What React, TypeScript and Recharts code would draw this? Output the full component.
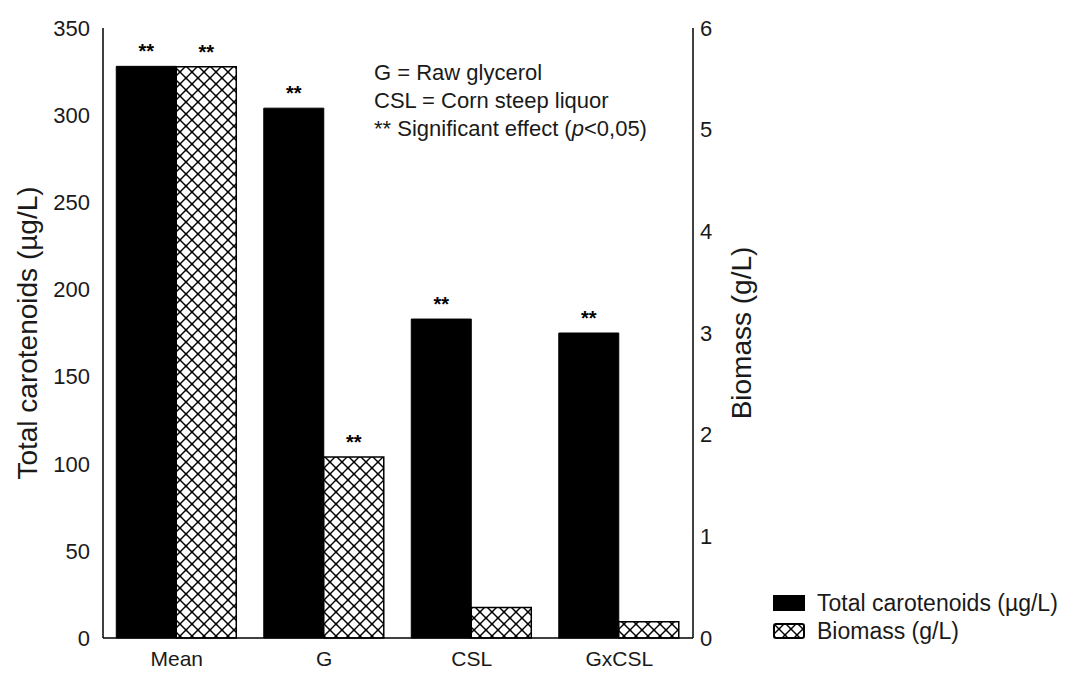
import React from 'react';
import { BarChart, Bar, XAxis, YAxis, Legend, LabelList } from 'recharts';

// values
const categories = ['Mean', 'G', 'CSL', 'GxCSL'];
const carotenoids = [328, 304, 183, 175];
const biomass = [5.62, 1.78, 0.3, 0.16];
const carotenoidTicks = [0, 50, 100, 150, 200, 250, 300, 350];
const biomassTicks = [0, 1, 2, 3, 4, 5, 6];
const notes = ['G = Raw glycerol', 'CSL = Corn steep liquor'];
const seriesNames = ['Total carotenoids (µg/L)', 'Biomass (g/L)'];

const data = categories.map((name, i) => ({
  name,
  carotenoids: carotenoids[i],
  biomass: biomass[i],
}));

const FONT = '"Liberation Sans", Arial, sans-serif';
const INK = '#1a1a1a';

const Stars = (props: any) => {
  const { x, y, width } = props;
  return (
    <text x={x + width / 2} y={y - 8} textAnchor="middle" fontSize={20} fontWeight="bold" fill="#000" fontFamily={FONT}>
      **
    </text>
  );
};

const AxisTitle = ({ viewBox, value, dx }: any) => {
  const cx = viewBox.x + dx;
  const cy = viewBox.y + viewBox.height / 2;
  return (
    <text x={cx} y={cy} transform={`rotate(-90, ${cx}, ${cy})`} textAnchor="middle" dominantBaseline="central" fontSize={28} fill={INK} fontFamily={FONT}>
      {value}
    </text>
  );
};

const LegendBox = () => (
  <div style={{ fontFamily: FONT, fontSize: 23, color: INK, lineHeight: '28px' }}>
    <div style={{ display: 'flex', alignItems: 'center' }}>
      <svg width={32} height={16} style={{ marginRight: 12 }}>
        <rect x={0} y={0} width={32} height={16} fill="#000" />
      </svg>
      {seriesNames[0]}
    </div>
    <div style={{ display: 'flex', alignItems: 'center' }}>
      <svg width={32} height={16} style={{ marginRight: 12 }}>
        <rect x={1} y={1} width={30} height={14} rx={2} fill="url(#crosshatch)" stroke="#000" strokeWidth={2} />
      </svg>
      {seriesNames[1]}
    </div>
  </div>
);

export default function App() {
  return (
    <div style={{ width: 1078, height: 674, background: '#fff' }}>
      <style>{'body{margin:0}'}</style>
      <BarChart
        width={1078}
        height={674}
        data={data}
        margin={{ top: 28, right: 285, bottom: 0, left: 0 }}
        barCategoryGap="9%"
        barGap={0}
      >
        <defs>
          <pattern id="crosshatch" patternUnits="userSpaceOnUse" width={12} height={12}>
            <rect width={12} height={12} fill="#fff" />
            <path d="M0,0 L12,12 M12,0 L0,12" stroke="#000" strokeWidth={1.4} />
            <circle cx={6} cy={6} r={1.3} fill="#000" />
            <circle cx={0} cy={0} r={1.3} fill="#000" />
            <circle cx={12} cy={0} r={1.3} fill="#000" />
            <circle cx={0} cy={12} r={1.3} fill="#000" />
            <circle cx={12} cy={12} r={1.3} fill="#000" />
          </pattern>
        </defs>
        <XAxis
          dataKey="name"
          height={36}
          axisLine={{ stroke: '#000', strokeWidth: 1.5 }}
          tickLine={false}
          tickSize={6}
          tickMargin={7}
          tick={{ fontSize: 21, fill: INK, fontFamily: FONT }}
        />
        <YAxis
          yAxisId="left"
          width={103}
          domain={[0, 350]}
          ticks={carotenoidTicks}
          interval={0}
          axisLine={{ stroke: '#000', strokeWidth: 1.5 }}
          tickLine={false}
          tickSize={4}
          tickMargin={9}
          tick={{ fontSize: 22, fill: INK, fontFamily: FONT }}
          label={<AxisTitle value="Total carotenoids (µg/L)" dx={27} />}
        />
        <YAxis
          yAxisId="right"
          orientation="right"
          width={100}
          domain={[0, 6]}
          ticks={biomassTicks}
          interval={0}
          axisLine={{ stroke: '#000', strokeWidth: 1.5 }}
          tickLine={false}
          tickSize={4}
          tickMargin={3}
          tick={{ fontSize: 22, fill: INK, fontFamily: FONT }}
          label={<AxisTitle value="Biomass (g/L)" dx={48} />}
        />
        <Legend
          layout="horizontal"
          verticalAlign="middle"
          align="center"
          content={<LegendBox />}
          wrapperStyle={{ left: 773, top: 589, width: 300 }}
        />
        <Bar yAxisId="left" dataKey="carotenoids" name={seriesNames[0]} fill="#000" stroke="#000" isAnimationActive={false}>
          <LabelList dataKey="carotenoids" content={<Stars />} />
        </Bar>
        <Bar yAxisId="right" dataKey="biomass" name={seriesNames[1]} fill="url(#crosshatch)" stroke="#000" strokeWidth={1.5} isAnimationActive={false}>
          <LabelList dataKey="biomass" content={(p: any) => (p.index <= 1 ? <Stars {...p} /> : null)} />
        </Bar>
        <g fontFamily={FONT} fontSize={22} fill={INK}>
          <text x={374} y={80}>{notes[0]}</text>
          <text x={374} y={108}>{notes[1]}</text>
          <text x={374} y={136}>
            ** Significant effect (<tspan fontStyle="italic">p</tspan>{'<0,05)'}
          </text>
        </g>
      </BarChart>
    </div>
  );
}
